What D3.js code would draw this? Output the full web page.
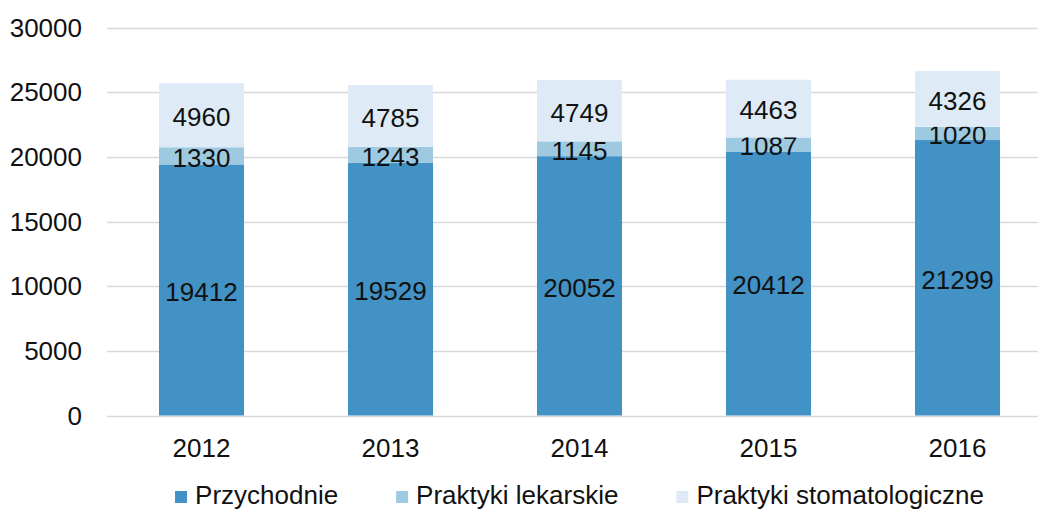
<!DOCTYPE html>
<html>
<head>
<meta charset="utf-8">
<script src="https://cdn.jsdelivr.net/npm/d3@7"></script>
<style>
  body { margin: 0; background: #fff; }
  svg text { font-family: "Liberation Sans", Arial, sans-serif; fill: #111; }
</style>
</head>
<body>
<svg id="chart" width="1038" height="509"></svg>
<script>
const years = ["2012", "2013", "2014", "2015", "2016"];
const przychodnie = [19412, 19529, 20052, 20412, 21299];
const praktykiLekarskie = [1330, 1243, 1145, 1087, 1020];
const praktykiStomatologiczne = [4960, 4785, 4749, 4463, 4326];
const seriesNames = ["Przychodnie", "Praktyki lekarskie", "Praktyki stomatologiczne"];
const colors = ["#4292c6", "#9ecae1", "#deebf7"];
const yTicks = [0, 5000, 10000, 15000, 20000, 25000, 30000];

const svg = d3.select("#chart");
const plotLeft = 107, plotRight = 1052, plotTop = 27.5, plotBottom = 415.5;

const rows = years.map((yr, i) => ({
  year: yr,
  [seriesNames[0]]: przychodnie[i],
  [seriesNames[1]]: praktykiLekarskie[i],
  [seriesNames[2]]: praktykiStomatologiczne[i],
}));
const stacked = d3.stack().keys(seriesNames)(rows);

const x = d3.scaleBand().domain(years).range([plotLeft, plotRight]).paddingInner(0.55).paddingOuter(0.275);
const y = d3.scaleLinear().domain([0, 30000]).range([plotBottom, plotTop]);

// gridlines
svg.append("g")
  .selectAll("line")
  .data(yTicks)
  .join("line")
  .attr("x1", plotLeft)
  .attr("x2", 1038)
  .attr("y1", (d) => Math.round(y(d)) + 0.5)
  .attr("y2", (d) => Math.round(y(d)) + 0.5)
  .attr("stroke", "#d9d9d9")
  .attr("stroke-width", 1.3);

// y axis labels
svg.append("g")
  .selectAll("text")
  .data(yTicks)
  .join("text")
  .attr("x", 82)
  .attr("y", (d) => y(d))
  .attr("dy", "0.35em")
  .attr("text-anchor", "end")
  .attr("font-size", 26)
  .text((d) => d);

// bars
const layers = svg.append("g")
  .selectAll("g")
  .data(stacked)
  .join("g")
  .attr("fill", (d, i) => colors[i]);

layers.selectAll("rect")
  .data((d) => d)
  .join("rect")
  .attr("x", (d) => x(d.data.year))
  .attr("width", x.bandwidth())
  .attr("y", (d) => y(d[1]))
  .attr("height", (d) => y(d[0]) - y(d[1]));

// value labels
layers.selectAll("text")
  .data((d) => d.map((v) => ({ v, key: d.key })))
  .join("text")
  .attr("x", (d) => x(d.v.data.year) + x.bandwidth() / 2)
  .attr("y", (d) => y((d.v[0] + d.v[1]) / 2) + 1.5)
  .attr("dy", "0.36em")
  .attr("text-anchor", "middle")
  .attr("font-size", 26)
  .text((d) => d.v.data[d.key]);

// x axis labels
svg.append("g")
  .selectAll("text")
  .data(years)
  .join("text")
  .attr("x", (d) => x(d) + x.bandwidth() / 2)
  .attr("y", 457)
  .attr("text-anchor", "middle")
  .attr("font-size", 26)
  .text((d) => d);

// legend
const legend = svg.append("g");
const items = legend.selectAll("g")
  .data(seriesNames)
  .join("g");
items.append("rect")
  .attr("width", 12)
  .attr("height", 12)
  .attr("y", 491)
  .attr("fill", (d, i) => colors[i]);
items.append("text")
  .attr("x", 20)
  .attr("y", 504)
  .attr("font-size", 26)
  .text((d) => d);

const widths = items.nodes().map((n) => n.getBBox().width);
const gap = 58;
const total = d3.sum(widths) + gap * (widths.length - 1);
let pos = (plotLeft + plotRight) / 2 - total / 2;
items.attr("transform", (d, i) => {
  const t = `translate(${pos},0)`;
  pos += widths[i] + gap;
  return t;
});
</script>
</body>
</html>
